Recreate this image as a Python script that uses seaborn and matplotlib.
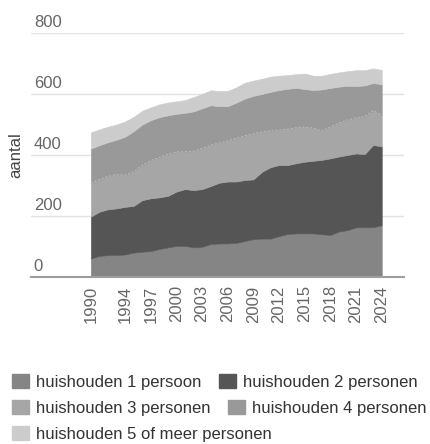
import matplotlib
matplotlib.use("Agg")
import matplotlib.pyplot as plt
import matplotlib.transforms as mtransforms
from matplotlib.patches import Patch
import seaborn as sns
import pandas as pd

# aantal huishoudens per jaar, per huishoudgrootte
years = list(range(1990, 2025))
een_persoon = [61, 69, 72, 72, 74, 80, 83, 85, 92, 97, 102, 102, 97, 99, 108, 110, 110, 112,
               118, 124, 126, 126, 134, 141, 143, 143, 143, 140, 138, 149, 154, 163, 163, 163, 170]
twee_personen = [137, 145, 150, 153, 156, 153, 169, 173, 169, 169, 178, 186, 188, 189, 190, 199, 203, 201,
                 200, 196, 219, 234, 233, 226, 230, 235, 238, 244, 251, 246, 246, 242, 240, 270, 258]
drie_personen = [110, 106, 108, 111, 104, 112, 114, 124, 131, 136, 130, 123, 127, 134, 134, 131, 133, 142,
                 145, 150, 131, 119, 115, 118, 117, 114, 107, 95, 103, 110, 115, 117, 123, 113, 103]
vier_personen = [113, 112, 112, 114, 126, 133, 134, 132, 132, 128, 125, 127, 131, 131, 131, 120, 114, 117,
                 122, 124, 124, 128, 131, 132, 130, 124, 125, 136, 128, 119, 112, 104, 102, 90, 101]
vijf_plus = [53, 52, 51, 50, 50, 47, 45, 42, 42, 42, 41, 42, 47, 47, 49, 50, 50, 50,
             52, 50, 50, 50, 47, 45, 45, 51, 47, 45, 46, 47, 48, 52, 50, 48, 47]

labels = ["huishouden 1 persoon", "huishouden 2 personen", "huishouden 3 personen",
          "huishouden 4 personen", "huishouden 5 of meer personen"]
colors = ["#858585", "#555555", "#a6a6a6", "#999999", "#cccccc"]
xticks = [1990, 1994, 1997, 2000, 2003, 2006, 2009, 2012, 2015, 2018, 2021, 2024]
yticks = [0, 200, 400, 600, 800]

df = pd.DataFrame({"jaar": years, labels[0]: een_persoon, labels[1]: twee_personen,
                   labels[2]: drie_personen, labels[3]: vier_personen, labels[4]: vijf_plus})

sns.set_theme(style="white")
plt.rcParams["font.family"] = ["Liberation Sans", "DejaVu Sans"]

fig = plt.figure(figsize=(4.3, 4.44), dpi=100)
ax = fig.add_axes([31 / 430, 1 - 277 / 444, 373 / 430, 244 / 444])

polys = ax.stackplot(df["jaar"], [df[l] for l in labels], colors=colors, linewidth=0.4)
for p, c in zip(polys, colors):
    p.set_edgecolor(c)

# faint dotted seam on top of the 3-personen band, as in the original
top3 = df[labels[0]] + df[labels[1]] + df[labels[2]]
ax.plot(df["jaar"], top3, color="#bebebe", lw=0.7, ls=(0, (2, 2)))

ax.set_xlim(1983.0, 2026.6)
ax.set_ylim(0, 800)
ax.set_axisbelow(True)
ax.set_yticks(yticks)
ax.yaxis.grid(True, color="#e2e2e2", lw=1)
ax.tick_params(axis="y", length=0, labelleft=False)

# y labels sit above the gridlines, left aligned
offset = mtransforms.ScaledTranslation(2 / 72, 4 / 72, fig.dpi_scale_trans)
for v in yticks:
    ax.text(0, v, str(v), transform=ax.get_yaxis_transform() + offset,
            ha="left", va="baseline", fontsize=12, color="#666666")

ax.set_xticks(xticks)
ax.set_xticklabels([str(x) for x in xticks], rotation=90, fontsize=12, color="#666666")
ax.tick_params(axis="x", length=0, pad=6)

sns.despine(ax=ax, left=True)
ax.spines["bottom"].set_color("#9e9e9e")
ax.spines["bottom"].set_linewidth(1.5)

ax.set_ylabel("aantal", fontsize=12, color="#444444")
ax.yaxis.set_label_coords(-0.02, 0.5)

handles = [Patch(facecolor=c, edgecolor=c) for c in colors]
rows = [[0, 1], [2, 3], [4]]
row_y = [382, 408, 434]
for r, y in zip(rows, row_y):
    fig.legend([handles[i] for i in r], [labels[i] for i in r], loc="center left",
               bbox_to_anchor=(12 / 430, 1 - y / 444), ncol=len(r), frameon=False,
               borderpad=0, borderaxespad=0, fontsize=12, labelcolor="#333333",
               handlelength=1.0, handleheight=0.9, handletextpad=0.42, columnspacing=1.08)

fig.savefig("out.png", dpi=100)
